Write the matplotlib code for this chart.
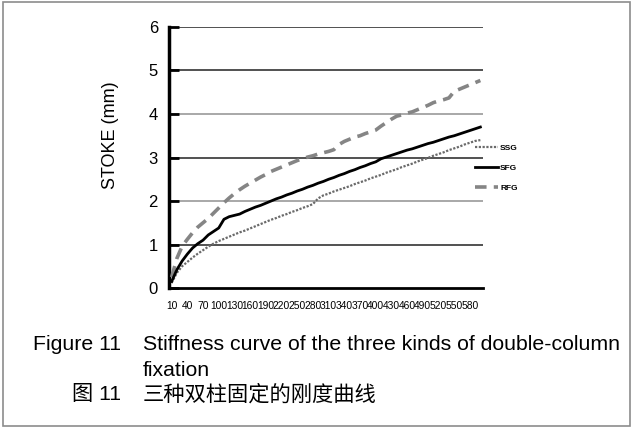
import numpy as np
import matplotlib
matplotlib.use('Agg')
import matplotlib.pyplot as plt
from matplotlib.patches import Rectangle

plt.rcParams['font.family'] = ['Liberation Sans', 'Noto Sans CJK SC', 'DejaVu Sans']

# load step (x axis categories 10..600)
load = list(range(10, 610, 10))

ssg = [0.12, 0.35, 0.50, 0.60, 0.70, 0.79, 0.87, 0.95, 1.02, 1.08,
       1.13, 1.18, 1.23, 1.28, 1.32, 1.37, 1.42, 1.47, 1.52, 1.57,
       1.61, 1.66, 1.70, 1.75, 1.79, 1.84, 1.88, 1.93, 2.06, 2.13,
       2.17, 2.22, 2.26, 2.30, 2.34, 2.39, 2.43, 2.47, 2.52, 2.56,
       2.60, 2.65, 2.69, 2.73, 2.78, 2.82, 2.86, 2.91, 2.95, 2.99,
       3.04, 3.08, 3.12, 3.17, 3.21, 3.25, 3.30, 3.34, 3.38, 3.40]

sfg = [0.15, 0.42, 0.62, 0.78, 0.92, 1.02, 1.10, 1.22, 1.30, 1.38,
       1.58, 1.64, 1.67, 1.70, 1.76, 1.81, 1.86, 1.90, 1.95, 2.00,
       2.05, 2.09, 2.14, 2.18, 2.23, 2.27, 2.32, 2.36, 2.41, 2.45,
       2.50, 2.54, 2.59, 2.63, 2.68, 2.72, 2.77, 2.81, 2.86, 2.90,
       2.97, 3.01, 3.05, 3.09, 3.13, 3.17, 3.20, 3.24, 3.28, 3.32,
       3.35, 3.39, 3.43, 3.47, 3.50, 3.54, 3.58, 3.62, 3.66, 3.70]

rfg = [0.25, 0.68, 0.96, 1.12, 1.27, 1.40, 1.50, 1.60, 1.72, 1.84,
       1.96, 2.07, 2.17, 2.26, 2.34, 2.41, 2.48, 2.55, 2.61, 2.68,
       2.73, 2.78, 2.83, 2.88, 2.93, 2.97, 3.01, 3.04, 3.08, 3.11,
       3.14, 3.18, 3.30, 3.37, 3.42, 3.47, 3.50, 3.55, 3.59, 3.63,
       3.72, 3.80, 3.88, 3.95, 3.98, 4.02, 4.05, 4.10, 4.15, 4.20,
       4.26, 4.30, 4.33, 4.37, 4.52, 4.57, 4.62, 4.67, 4.72, 4.77]

xtick_vals = list(range(10, 590, 30))
yticks = [0, 1, 2, 3, 4, 5, 6]

fig = plt.figure(figsize=(6.33, 4.28), dpi=100)
ax = fig.add_axes([0.267, 0.327, 0.496, 0.610])

ax.plot(load, ssg, color='#6a6a6a', lw=1.6, linestyle=(0, (1, 0.7)), label='SSG', zorder=3)
ax.plot(load, sfg, color='black', lw=2.0, label='SFG', zorder=4)
ax.plot(load, rfg, color='#858585', lw=2.6, linestyle=(0, (3.2, 2)), label='RFG', zorder=3)

ax.set_xlim(5, 605)
ax.set_ylim(0, 6)
ax.set_yticks(yticks)
ax.set_xticks(xtick_vals)
ax.set_xticklabels([str(v) for v in xtick_vals], fontsize=7.4)
ax.tick_params(axis='x', length=0, pad=9)
ax.tick_params(axis='y', direction='in', length=7, width=2, pad=8, labelsize=12)

for y in yticks[1:]:
    c = '#999999' if y in (2, 4) else '#333333'
    ax.axhline(y, color=c, lw=1.2, zorder=1)

for s in ['top', 'right']:
    ax.spines[s].set_visible(False)
ax.spines['left'].set_linewidth(2.5)
ax.spines['bottom'].set_linewidth(2)

ax.set_ylabel('STOKE (mm)', fontsize=13)
ax.yaxis.set_label_coords(-0.159, 0.586)

ax.legend(loc='upper left', bbox_to_anchor=(0.975, 0.550), frameon=False,
          handlelength=2.8, handletextpad=0.2, labelspacing=1.45,
          borderpad=0, borderaxespad=0, prop={'weight': 'bold', 'size': 6})

fig.patches.append(Rectangle((3 / 633, 2 / 428), 627 / 633, 424 / 428,
                             transform=fig.transFigure, fill=False,
                             edgecolor='#8c8c8c', lw=1.2))

cap = 15.3
fig.text(0.052, 0.194, 'Figure 11', fontsize=cap, va='center')
fig.text(0.226, 0.194, 'Stiffness curve of the three kinds of double-column',
         fontsize=cap, va='center')
fig.text(0.226, 0.135, 'fixation', fontsize=cap, va='center')
fig.text(0.114, 0.079, '图 11', fontsize=cap, va='center')
fig.text(0.226, 0.079, '三种双柱固定的刚度曲线', fontsize=cap, va='center')

fig.savefig('out.png', dpi=100)
